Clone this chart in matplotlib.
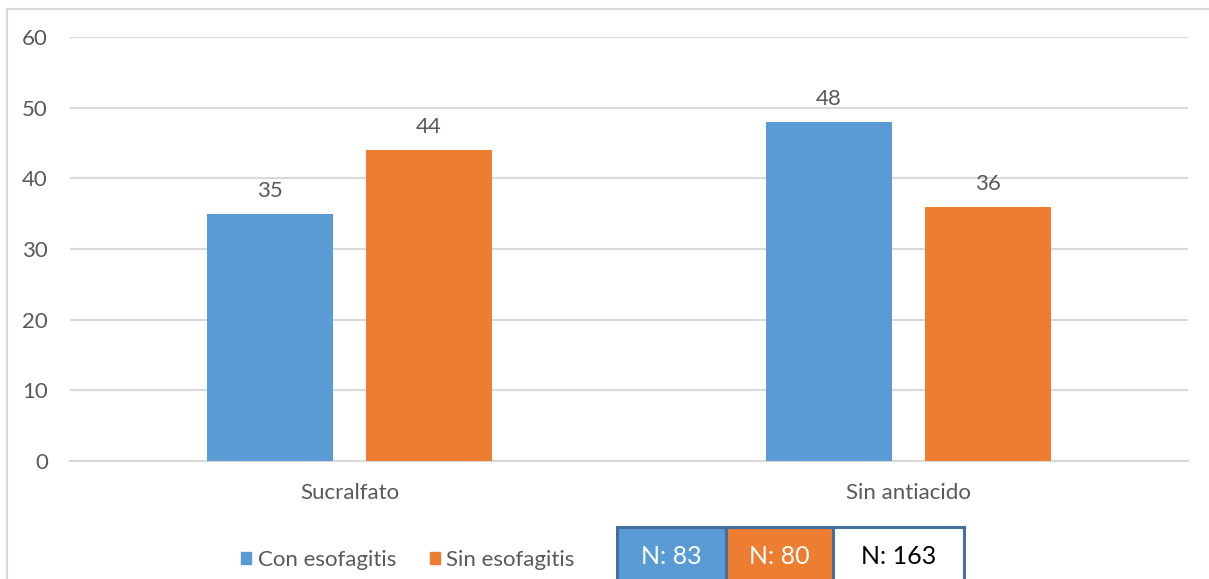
import matplotlib
matplotlib.use("Agg")
import matplotlib.pyplot as plt
import numpy as np
from matplotlib.patches import Rectangle
from matplotlib.lines import Line2D

categories = ["Sucralfato", "Sin antiacido"]
con_esofagitis = [35, 48]
sin_esofagitis = [44, 36]
series_names = ["Con esofagitis", "Sin esofagitis"]
n_labels = ["N: 83", "N: 80", "N: 163"]

BLUE = "#5B9BD5"
ORANGE = "#ED7D31"
GRID = "#D9D9D9"
TXT = "#595959"
BOX_EDGE = "#41719C"

plt.rcParams["font.family"] = ["Lato", "DejaVu Sans"]

W, H = 1209, 579
fig = plt.figure(figsize=(W / 100, H / 100), dpi=100)

def fx(px):
    return px / W

def fy(py):
    return 1 - py / H

ax = fig.add_axes([fx(70), fy(461), fx(1188) - fx(70), fy(37) - fy(461)])

x = np.arange(len(categories))
bw = 0.225
off = 0.142
b1 = ax.bar(x - off, con_esofagitis, bw, color=BLUE, zorder=3)
b2 = ax.bar(x + off, sin_esofagitis, bw, color=ORANGE, zorder=3)

for bars, vals in ((b1, con_esofagitis), (b2, sin_esofagitis)):
    for rect, v in zip(bars, vals):
        ax.annotate(str(v), (rect.get_x() + rect.get_width() / 2, v),
                    xytext=(0, 12), textcoords="offset points",
                    ha="center", va="baseline", fontsize=16, color=TXT)

ax.set_xlim(-0.5, 1.5)
ax.set_ylim(0, 60)
ax.set_yticks(np.arange(0, 61, 10))
ax.set_xticks(x)
ax.set_xticklabels(categories)
ax.yaxis.grid(True, color=GRID, linewidth=1.5, zorder=0)
ax.set_axisbelow(True)
for s in ["top", "right", "left"]:
    ax.spines[s].set_visible(False)
ax.spines["bottom"].set_color(GRID)
ax.spines["bottom"].set_linewidth(1.5)
ax.tick_params(axis="both", length=0, labelsize=16, labelcolor=TXT)
ax.tick_params(axis="y", pad=16)
ax.tick_params(axis="x", pad=16)

# legend
handles = [Rectangle((0, 0), 1, 1, color=BLUE), Rectangle((0, 0), 1, 1, color=ORANGE)]
fig.legend(handles, series_names, loc="center", bbox_to_anchor=(fx(408), fy(560)),
           ncol=2, frameon=False, fontsize=16, labelcolor=TXT,
           handlelength=0.45, handleheight=0.45, handletextpad=0.3, columnspacing=1.5)

# sample size boxes
edges = [617, 726, 833, 964]
fills = [BLUE, ORANGE, "white"]
tcolors = ["white", "white", "black"]
for i, lab in enumerate(n_labels):
    x0, x1 = edges[i], edges[i + 1]
    fig.patches.append(Rectangle((fx(x0), fy(590)), fx(x1) - fx(x0), fy(527) - fy(590),
                                 transform=fig.transFigure, facecolor=fills[i],
                                 edgecolor=BOX_EDGE, linewidth=2.2, clip_on=False))
    fig.text(fx((x0 + x1) / 2), fy(557), lab, ha="center", va="center",
             fontsize=18, color=tcolors[i])

# outer frame
fig.add_artist(Line2D([fx(6.5), 1], [fy(8.5), fy(8.5)], transform=fig.transFigure,
                      color=GRID, linewidth=1.5))
fig.add_artist(Line2D([fx(6.5), fx(6.5)], [fy(8.5), 0], transform=fig.transFigure,
                      color=GRID, linewidth=1.5))

fig.savefig("out.png", dpi=100)
